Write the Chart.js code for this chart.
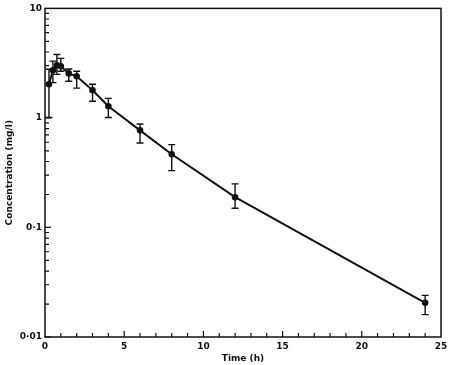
<!DOCTYPE html>
<html>
<head>
<meta charset="utf-8">
<script src="https://cdn.jsdelivr.net/npm/chart.js@4.4.0/dist/chart.umd.min.js"></script>
<style>
  html, body { margin: 0; padding: 0; background: #fff; }
  #wrap { width: 453px; height: 365px; }
</style>
</head>
<body>
<div id="wrap"><canvas id="pkChart" width="453" height="365"></canvas></div>
<script>
; (() => {
  "use strict";

  // sampling times (h) and mean concentration (mg/l) with error bar limits
  const times = [0.25, 0.5, 0.75, 1, 1.5, 2, 3, 4, 6, 8, 12, 24];
  const conc = [2.03, 2.72, 3.02, 2.96, 2.55, 2.4, 1.79, 1.28, 0.77, 0.466, 0.189, 0.0205];
  const upper = [2.78, 3.3, 3.8, 3.5, 2.8, 2.67, 2.03, 1.51, 0.88, 0.57, 0.25, 0.024];
  const lower = [1.01, 2.1, 2.5, 2.67, 2.16, 1.87, 1.42, 1.01, 0.59, 0.33, 0.15, 0.016];

  const xTicks = [0, 5, 10, 15, 20, 25];
  const yTicks = [0.01, 0.1, 1, 10];
  const yTickLabels = ["0·01", "0·1", "1", "10"];

  const ink = "#111";
  const font = { family: "'DejaVu Sans', sans-serif", size: 9, weight: "bold" };

  const errorBars = {
    id: "errorBars",
    afterDatasetsDraw(chart) {
      const { ctx, scales: { x, y } } = chart;
      ctx.save();
      ctx.strokeStyle = ink;
      ctx.lineWidth = 1.4;
      times.forEach((t, i) => {
        const px = x.getPixelForValue(t);
        const top = y.getPixelForValue(upper[i]);
        const bot = y.getPixelForValue(lower[i]);
        ctx.beginPath();
        ctx.moveTo(px, top);
        ctx.lineTo(px, bot);
        ctx.moveTo(px - 3.5, top);
        ctx.lineTo(px + 3.5, top);
        ctx.moveTo(px - 3.5, bot);
        ctx.lineTo(px + 3.5, bot);
        ctx.stroke();
      });
      ctx.restore();
    }
  };

  const frameAndTicks = {
    id: "frameAndTicks",
    afterDraw(chart) {
      const { ctx, chartArea: a, scales: { x, y } } = chart;
      ctx.save();
      ctx.strokeStyle = ink;
      ctx.lineWidth = 1.5;
      ctx.strokeRect(a.left, a.top, a.right - a.left, a.bottom - a.top);

      ctx.lineWidth = 1.2;
      ctx.beginPath();
      for (let h = 1; h < 25; h++) {
        const px = x.getPixelForValue(h);
        const len = h % 5 === 0 ? 6 : 4;
        ctx.moveTo(px, a.bottom);
        ctx.lineTo(px, a.bottom - len);
      }
      yTicks.slice(0, -1).forEach((base) => {
        for (let m = 1; m < 10; m++) {
          const py = y.getPixelForValue(base * m);
          const len = m === 1 ? 6 : 4;
          ctx.moveTo(a.left, py);
          ctx.lineTo(a.left + len, py);
        }
      });
      ctx.stroke();
      ctx.restore();
    }
  };

  new Chart(document.getElementById("pkChart").getContext("2d"), {
    type: "line",
    data: {
      datasets: [{
        data: times.map((t, i) => ({ x: t, y: conc[i] })),
        borderColor: ink,
        backgroundColor: ink,
        borderWidth: 2,
        pointRadius: 2.3,
        pointHoverRadius: 2.3,
        tension: 0
      }]
    },
    options: {
      responsive: false,
      animation: false,
      events: [],
      layout: { padding: { left: 0, right: 12, top: 7, bottom: 0 } },
      plugins: { legend: { display: false }, tooltip: { enabled: false } },
      scales: {
        x: {
          type: "linear",
          min: 0,
          max: 25,
          afterBuildTicks: (scale) => { scale.ticks = xTicks.map((v) => ({ value: v })); },
          afterFit: (scale) => { scale.height = 28; },
          grid: { display: false, drawTicks: false },
          border: { display: false },
          ticks: { color: ink, font: font, padding: 4, maxRotation: 0 },
          title: { display: true, text: "Time (h)", color: ink, font: font, padding: { top: 0, bottom: 1 } }
        },
        y: {
          type: "logarithmic",
          min: 0.01,
          max: 10,
          afterBuildTicks: (scale) => { scale.ticks = yTicks.map((v) => ({ value: v })); },
          afterFit: (scale) => { scale.width = 45; },
          grid: { display: false, drawTicks: false },
          border: { display: false },
          ticks: {
            color: ink,
            font: font,
            padding: 3,
            callback: (v) => yTickLabels[yTicks.indexOf(v)]
          },
          title: { display: true, text: "Concentration (mg/l)", color: ink, font: font, padding: { top: 4, bottom: 0 } }
        }
      }
    },
    plugins: [errorBars, frameAndTicks]
  });
})();
</script>
</body>
</html>
